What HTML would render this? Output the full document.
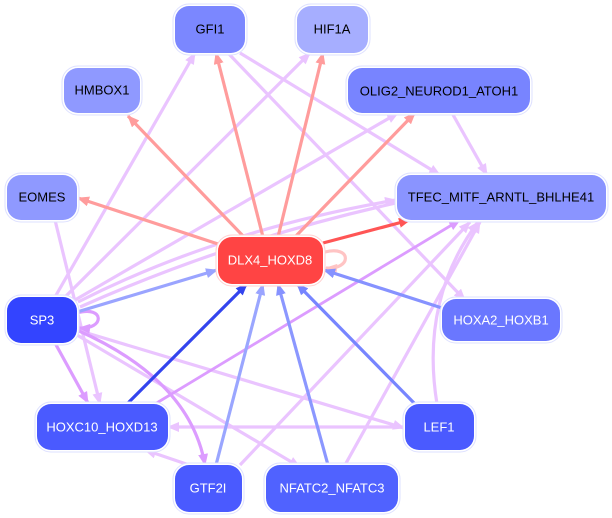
<!DOCTYPE html>
<html><head><meta charset="utf-8"><style>
html,body{margin:0;padding:0;background:#fff;width:612px;height:518px;overflow:hidden}
svg{display:block}
text{font-family:"Liberation Sans",sans-serif;font-size:13px;text-anchor:middle;dominant-baseline:central}
</style></head><body>
<svg width="612" height="518" viewBox="0 0 612 518">
<defs>
<marker id="mL" markerWidth="12" markerHeight="10" refX="11" refY="5" orient="auto" markerUnits="userSpaceOnUse"><path d="M0,0L12,5L0,10z" fill="#eac4ff"/></marker>
<marker id="mP" markerWidth="12" markerHeight="10" refX="11" refY="5" orient="auto" markerUnits="userSpaceOnUse"><path d="M0,0L12,5L0,10z" fill="#dc9cff"/></marker>
<marker id="mR" markerWidth="12" markerHeight="10" refX="11" refY="5" orient="auto" markerUnits="userSpaceOnUse"><path d="M0,0L12,5L0,10z" fill="#ff9c9c"/></marker>
<marker id="mR2" markerWidth="12" markerHeight="10" refX="11" refY="5" orient="auto" markerUnits="userSpaceOnUse"><path d="M0,0L12,5L0,10z" fill="#ff5555"/></marker>
<marker id="mRs" markerWidth="12" markerHeight="10" refX="11" refY="5" orient="auto" markerUnits="userSpaceOnUse"><path d="M0,0L12,5L0,10z" fill="#ffc4c4"/></marker>
<marker id="mB1" markerWidth="12" markerHeight="10" refX="11" refY="5" orient="auto" markerUnits="userSpaceOnUse"><path d="M0,0L12,5L0,10z" fill="#9aa4ff"/></marker>
<marker id="mB2" markerWidth="12" markerHeight="10" refX="11" refY="5" orient="auto" markerUnits="userSpaceOnUse"><path d="M0,0L12,5L0,10z" fill="#3344ee"/></marker>
<marker id="mB3" markerWidth="12" markerHeight="10" refX="11" refY="5" orient="auto" markerUnits="userSpaceOnUse"><path d="M0,0L12,5L0,10z" fill="#8692ff"/></marker>
<marker id="mB4" markerWidth="12" markerHeight="10" refX="11" refY="5" orient="auto" markerUnits="userSpaceOnUse"><path d="M0,0L12,5L0,10z" fill="#7785ff"/></marker>
</defs>
<g fill="none" stroke-width="3.2">
<g stroke="#eac4ff" marker-end="url(#mL)">
<path d="M55,297L195,53"/>
<path d="M65,297L310,53"/>
<path d="M75,300L398,113"/>
<path d="M78,302Q220,230 396,200"/>
<path d="M80,307Q230,240 396,203" marker-end="none"/>
<path d="M55,220L100,404"/>
<path d="M77,335L300,467"/>
<path d="M77,330L404,428"/>
<path d="M240,53L440,175"/>
<path d="M228,53L465,300"/>
<path d="M452,113L487,175"/>
<path d="M404,427L168,427"/>
<path d="M437,404Q420,300 478,222"/>
<path d="M198,468L145,450"/>
<path d="M240,465L470,222"/>
<path d="M345,465L480,222"/>
</g>
<g stroke="#dc9cff" marker-end="url(#mP)">
<path d="M55,343L88,403"/>
<path d="M77,330Q190,380 205,465"/>
<path d="M155,404L460,220" stroke-width="2.8"/>
<path d="M77,313C105,305 105,330 79,328"/>
</g>
<g stroke="#ff9c9c" marker-end="url(#mR)">
<path d="M245,238L128,116"/>
<path d="M263,237L216,53"/>
<path d="M278,237L323,53"/>
<path d="M295,237L415,113"/>
<path d="M218,244L78,198"/>
</g>
<path d="M323,243L410,220" stroke="#ff5555" marker-end="url(#mR2)"/>
<path d="M325,252C352,245 352,270 326,268" stroke="#ffc4c4" marker-end="url(#mRs)"/>
<path d="M77,312L217,270" stroke="#9aa4ff" marker-end="url(#mB1)"/>
<path d="M127,404L247,284" stroke="#3344ee" marker-end="url(#mB2)"/>
<path d="M216,465L263,284" stroke="#9aa6ff" marker-end="url(#mB1)"/>
<path d="M328,465L278,284" stroke="#8b97ff" marker-end="url(#mB3)"/>
<path d="M415,404L297,284" stroke="#7785ff" marker-end="url(#mB4)"/>
<path d="M442,308L324,270" stroke="#8692ff" marker-end="url(#mB3)"/>
</g>
<g stroke="#dde0ff" stroke-width="1">
<rect x="173" y="4" width="74" height="51" rx="16" fill="#fff"/><rect x="175" y="6" width="70" height="47" rx="14" fill="#7b87ff" stroke="none"/>
<rect x="295" y="4" width="75" height="51" rx="16" fill="#fff"/><rect x="297" y="6" width="71" height="47" rx="14" fill="#a6aeff" stroke="none"/>
<rect x="62" y="66" width="80" height="49" rx="16" fill="#fff"/><rect x="64" y="68" width="76" height="45" rx="14" fill="#8f99ff" stroke="none"/>
<rect x="346" y="66" width="186" height="49" rx="16" fill="#fff"/><rect x="348" y="68" width="182" height="45" rx="14" fill="#7884ff" stroke="none"/>
<rect x="5" y="173" width="74" height="49" rx="16" fill="#fff"/><rect x="7" y="175" width="70" height="45" rx="14" fill="#8f99ff" stroke="none"/>
<rect x="395" y="173" width="213" height="49" rx="16" fill="#fff"/><rect x="397" y="175" width="209" height="45" rx="14" fill="#8a94ff" stroke="none"/>
<rect x="216" y="235" width="109" height="51" rx="16" fill="#fff" stroke="#ffd0d0"/><rect x="218" y="237" width="105" height="47" rx="14" fill="#ff4444" stroke="none"/>
<rect x="5" y="295" width="74" height="50" rx="16" fill="#fff"/><rect x="7" y="297" width="70" height="46" rx="14" fill="#3344ff" stroke="none"/>
<rect x="440" y="297" width="122" height="46" rx="16" fill="#fff"/><rect x="442" y="299" width="118" height="42" rx="14" fill="#6a77ff" stroke="none"/>
<rect x="35" y="402" width="135" height="50" rx="16" fill="#fff"/><rect x="37" y="404" width="131" height="46" rx="14" fill="#4a5aff" stroke="none"/>
<rect x="403" y="402" width="73" height="50" rx="16" fill="#fff"/><rect x="405" y="404" width="69" height="46" rx="14" fill="#4a5aff" stroke="none"/>
<rect x="173" y="463" width="71" height="51" rx="16" fill="#fff"/><rect x="175" y="465" width="67" height="47" rx="14" fill="#4a5aff" stroke="none"/>
<rect x="264" y="463" width="136" height="51" rx="16" fill="#fff"/><rect x="266" y="465" width="132" height="47" rx="14" fill="#5062ff" stroke="none"/>
</g>
<g fill="#000">
<text x="210" y="29">GFI1</text>
<text x="332" y="29">HIF1A</text>
<text x="102" y="90">HMBOX1</text>
<text x="439" y="91">OLIG2_NEUROD1_ATOH1</text>
<text x="42" y="197">EOMES</text>
<text x="501" y="197">TFEC_MITF_ARNTL_BHLHE41</text>
</g>
<g fill="#fff">
<text x="270" y="260">DLX4_HOXD8</text>
<text x="42" y="320">SP3</text>
<text x="501" y="320">HOXA2_HOXB1</text>
<text x="102" y="427">HOXC10_HOXD13</text>
<text x="439" y="427">LEF1</text>
<text x="208" y="488">GTF2I</text>
<text x="332" y="488">NFATC2_NFATC3</text>
</g>
</svg>
</body></html>
